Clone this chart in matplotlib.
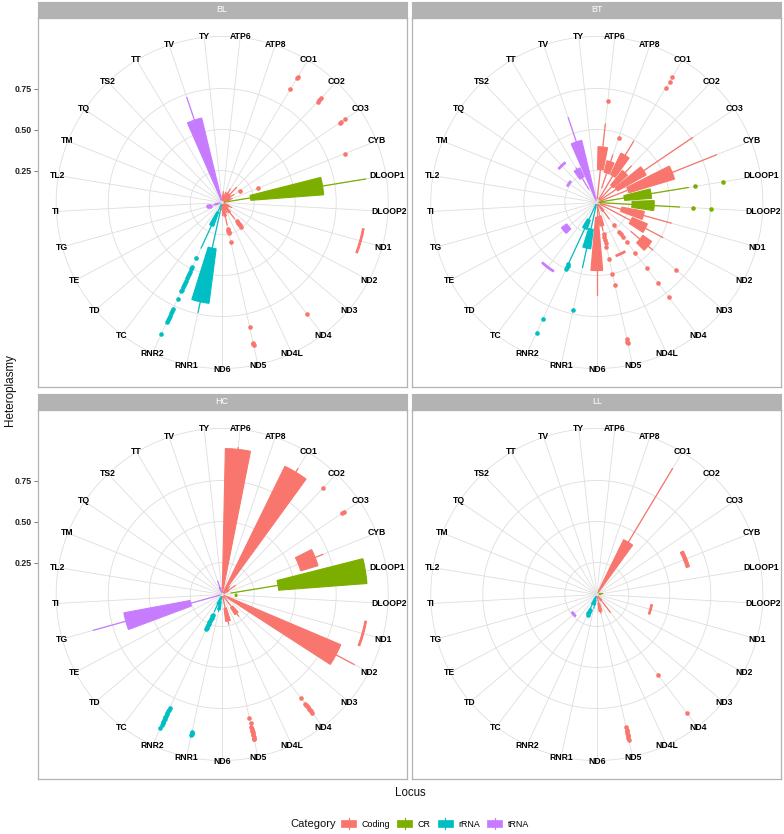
import numpy as np
import matplotlib
matplotlib.use("Agg")
import matplotlib.pyplot as plt
from matplotlib.patches import Rectangle
from matplotlib.lines import Line2D
from matplotlib.legend_handler import HandlerBase

plt.rcParams['font.family'] = ['Liberation Sans', 'DejaVu Sans']

# ---------------- data ----------------
loci = ["ATP6", "ATP8", "CO1", "CO2", "CO3", "CYB", "DLOOP1", "DLOOP2", "ND1", "ND2",
        "ND3", "ND4", "ND4L", "ND5", "ND6", "RNR1", "RNR2", "TC", "TD", "TE", "TG",
        "TI", "TL2", "TM", "TQ", "TS2", "TT", "TV", "TY"]
coding = ["ATP6", "ATP8", "CO1", "CO2", "CO3", "CYB", "ND1", "ND2", "ND3", "ND4",
          "ND4L", "ND5", "ND6"]
cr = ["DLOOP1", "DLOOP2"]
rrna = ["RNR1", "RNR2"]
trna = ["TC", "TD", "TE", "TG", "TI", "TL2", "TM", "TQ", "TS2", "TT", "TV", "TY"]
categories = ["Coding", "CR", "rRNA", "tRNA"]
cat_colors = ["#F8766D", "#7CAE00", "#00BFC4", "#C77CFF"]
facets = ["BL", "BT", "HC", "LL"]
r_ticks = [0.25, 0.50, 0.75]
r_tick_labels = ["0.25", "0.50", "0.75"]

# box statistics per locus: (lower whisker, Q1, Q3, upper whisker)
BL_box = {
    "ATP6": (0.07, 0.08, 0.10, 0.12), "ATP8": (0.07, 0.08, 0.10, 0.12),
    "CO1": (0.07, 0.09, 0.12, 0.15), "CO2": (0.07, 0.09, 0.12, 0.18),
    "CO3": (0.07, 0.09, 0.11, 0.14), "CYB": (0.07, 0.08, 0.10, 0.12),
    "DLOOP1": (0.07, 0.23, 0.675, 0.94),
    "ND1": (0.925, 0.925, 0.935, 0.935), "ND2": (0.07, 0.08, 0.10, 0.12),
    "ND3": (0.07, 0.08, 0.09, 0.10), "ND4": (0.07, 0.09, 0.13, 0.18),
    "ND4L": (0.07, 0.08, 0.10, 0.12), "ND5": (0.07, 0.09, 0.14, 0.195),
    "ND6": (0.07, 0.08, 0.10, 0.13),
    "RNR1": (0.07, 0.34, 0.675, 0.74), "RNR2": (0.07, 0.12, 0.21, 0.36),
    "TG": (0.07, 0.08, 0.10, 0.11), "TV": (0.07, 0.075, 0.585, 0.73),
}
BL_out = {
    "CO1": [0.86, 0.94, 0.95], "CO2": [0.90, 0.915, 0.93],
    "CO3": [0.185, 0.92, 0.93, 0.96], "CYB": [0.287, 0.86],
    "ND4": [0.20, 0.21, 0.22, 0.23, 0.24, 0.91],
    "ND5": [0.22, 0.23, 0.24, 0.245, 0.30, 0.83, 0.93, 0.94, 0.945],
    "RNR2": [0.43, 0.49, 0.505, 0.52, 0.535, 0.55, 0.565, 0.58, 0.595, 0.61, 0.625,
             0.64, 0.65, 0.70, 0.77, 0.785, 0.80, 0.815, 0.83, 0.845, 0.855, 0.94],
    "TG": [0.13, 0.145],
}

BT_box = {
    "ATP6": (0.08, 0.257, 0.395, 0.535), "ATP8": (0.15, 0.245, 0.317, 0.36),
    "CO1": (0.08, 0.245, 0.39, 0.49), "CO2": (0.08, 0.19, 0.305, 0.36),
    "CO3": (0.08, 0.20, 0.40, 0.76), "CYB": (0.08, 0.26, 0.55, 0.84),
    "DLOOP1": (0.07, 0.225, 0.39, 0.62), "DLOOP2": (0.07, 0.27, 0.405, 0.56),
    "ND1": (0.08, 0.21, 0.35, 0.525), "ND2": (0.08, 0.29, 0.39, 0.51),
    "ND3": (0.33, 0.40, 0.465, 0.50), "ND4": (0.07, 0.08, 0.12, 0.18),
    "ND4L": (0.395, 0.395, 0.405, 0.405), "ND5": (0.07, 0.14, 0.20, 0.23),
    "ND6": (0.07, 0.145, 0.47, 0.62),
    "RNR1": (0.07, 0.22, 0.34, 0.46), "RNR2": (0.07, 0.17, 0.23, 0.46),
    "TC": (0.545, 0.545, 0.555, 0.555), "TD": (0.28, 0.28, 0.32, 0.32),
    "TQ": (0.255, 0.255, 0.265, 0.265), "TS2": (0.36, 0.36, 0.37, 0.37),
    "TT": (0.15, 0.23, 0.29, 0.30), "TV": (0.07, 0.08, 0.445, 0.60),
}
BT_out = {
    "ATP6": [0.68], "ATP8": [0.47], "CO1": [0.87, 0.915, 0.945],
    "DLOOP1": [0.66, 0.835], "DLOOP2": [0.64, 0.75], "ND3": [0.69],
    "ND4": [0.225, 0.28, 0.30, 0.32, 0.355, 0.44, 0.56, 0.67, 0.78],
    "ND5": [0.25, 0.27, 0.29, 0.31, 0.33, 0.405, 0.50, 0.57, 0.91, 0.925, 0.935],
    "RNR1": [0.725], "RNR2": [0.47, 0.48, 0.49, 0.50, 0.84, 0.93],
}

HC_box = {
    "ATP6": (0.07, 0.09, 0.945, 0.955), "CO1": (0.07, 0.09, 0.925, 0.95),
    "CO2": (0.07, 0.08, 0.10, 0.12), "CO3": (0.07, 0.08, 0.10, 0.15),
    "CYB": (0.555, 0.555, 0.665, 0.715),
    "DLOOP1": (0.11, 0.40, 0.94, 0.94), "DLOOP2": (0.135, 0.135, 0.145, 0.145),
    "ND1": (0.94, 0.94, 0.95, 0.95), "ND2": (0.07, 0.09, 0.84, 0.965),
    "ND4": (0.07, 0.15, 0.20, 0.22), "ND5": (0.07, 0.14, 0.22, 0.24),
    "RNR1": (0.07, 0.10, 0.15, 0.16), "RNR2": (0.07, 0.08, 0.12, 0.17),
    "TG": (0.07, 0.255, 0.665, 0.87), "TV": (0.07, 0.08, 0.10, 0.14),
}
HC_out = {
    "CO2": [0.95], "CO3": [0.94, 0.955],
    "ND4": [0.845, 0.89, 0.90, 0.91, 0.92, 0.93, 0.94, 0.95, 0.96],
    "ND5": [0.825, 0.86, 0.885, 0.895, 0.905, 0.915, 0.925, 0.935, 0.945, 0.955, 0.96],
    "RNR1": [0.915, 0.92, 0.925, 0.93],
    "RNR2": [0.19, 0.20, 0.21, 0.22, 0.23, 0.24, 0.25, 0.26, 0.27, 0.28, 0.29,
             0.82, 0.83, 0.84, 0.85, 0.86, 0.87, 0.88, 0.89, 0.90, 0.91, 0.92, 0.935, 0.955],
}

LL_box = {
    "CO1": (0.07, 0.08, 0.427, 0.95), "CYB": (0.625, 0.625, 0.645, 0.645),
    "DLOOP1": (0.07, 0.07, 0.08, 0.09), "ND1": (0.39, 0.39, 0.40, 0.40),
    "ND4": (0.07, 0.08, 0.10, 0.19), "ND5": (0.07, 0.11, 0.16, 0.17),
    "RNR1": (0.07, 0.09, 0.12, 0.14), "RNR2": (0.07, 0.08, 0.12, 0.15),
    "TD": (0.235, 0.235, 0.245, 0.245),
}
LL_out = {
    "ND4": [0.67, 0.96],
    "ND5": [0.885, 0.90, 0.91, 0.92, 0.93, 0.94, 0.95, 0.965],
    "RNR2": [0.16, 0.17, 0.18, 0.19],
}

# ---------------- layout ----------------
W, H = 784, 834
fig = plt.figure(figsize=(W / 100, H / 100), dpi=100)
fig.patch.set_facecolor("white")

PANEL = 369.0           # panel size in px
STRIP = 16.5            # strip height in px
R0 = 0.055              # radial value at the centre
PX_PER_UNIT = 164.0     # px per heteroplasmy unit
R_OUT = R0 + 0.45 * PANEL / PX_PER_UNIT
panel_pos = {"BL": (37.7, 18.0), "BT": (412.3, 18.0),
             "HC": (37.7, 410.0), "LL": (412.3, 410.0)}
box_data = {"BL": (BL_box, BL_out), "BT": (BT_box, BT_out),
            "HC": (HC_box, HC_out), "LL": (LL_box, LL_out)}

grid_col = "#DEDEDE"
border_col = "#B3B3B3"
n = len(loci)
step = 2 * np.pi / n
theta_of = {loc: (i + 0.5) * step for i, loc in enumerate(loci)}
bw = 0.8 * step


def color_of(loc):
    if loc in coding:
        return cat_colors[0]
    if loc in cr:
        return cat_colors[1]
    if loc in rrna:
        return cat_colors[2]
    return cat_colors[3]


for name in facets:
    x0, y0 = panel_pos[name]
    left_col = x0 < 100
    # frame (panel border + radial axis)
    fr = fig.add_axes([x0 / W, 1 - (y0 + PANEL) / H, PANEL / W, PANEL / H])
    half = PANEL / 2 / PX_PER_UNIT
    fr.set_xlim(0, 1)
    fr.set_ylim(R0 - half, R0 + half)
    fr.set_xticks([])
    if left_col:
        fr.set_yticks(r_ticks)
        fr.set_yticklabels(r_tick_labels, fontsize=6.3, fontweight="bold", color="#222222")
        fr.tick_params(axis="y", length=3, width=0.6, color="#666666", pad=1.2)
    else:
        fr.set_yticks([])
    for s in fr.spines.values():
        s.set_color(border_col)
        s.set_linewidth(0.9)
    fr.set_zorder(0)

    # strip
    st = fig.add_axes([x0 / W, 1 - y0 / H, PANEL / W, STRIP / H])
    st.set_facecolor(border_col)
    st.set_xticks([])
    st.set_yticks([])
    for s in st.spines.values():
        s.set_color(border_col)
    st.text(0.5, 0.5, name, color="white", ha="center", va="center", fontsize=6.5,
            transform=st.transAxes)

    # polar panel
    cx, cy = x0 + PANEL / 2, y0 + PANEL / 2
    rad = 0.45 * PANEL
    ax = fig.add_axes([(cx - rad) / W, 1 - (cy + rad) / H, 2 * rad / W, 2 * rad / H],
                      projection="polar")
    ax.set_theta_zero_location("N")
    ax.set_theta_direction(-1)
    ax.set_ylim(R0, R_OUT)
    ax.axis("off")
    ax.set_zorder(1)

    tt = np.linspace(0, 2 * np.pi, 300)
    for r in r_ticks + [R_OUT]:
        ax.plot(tt, np.full_like(tt, r), color=grid_col, lw=0.6, zorder=0, clip_on=False)
    for loc in loci:
        th = theta_of[loc]
        ax.plot([th, th], [R0, R_OUT], color=grid_col, lw=0.6, zorder=0, clip_on=False)
        ax.text(th, R_OUT + 0.004, loc, ha="center", va="center", fontsize=6.2,
                fontweight="bold", color="black", zorder=1, clip_on=False)

    boxes, outs = box_data[name]
    for loc, (lw_, q1, q3, uw) in boxes.items():
        th = theta_of[loc]
        c = color_of(loc)
        if uw > q3:
            ax.plot([th, th], [q3, uw], color=c, lw=0.9, zorder=2, clip_on=False)
        if lw_ < q1:
            ax.plot([th, th], [lw_, q1], color=c, lw=0.9, zorder=2, clip_on=False)
        ax.bar(th, q3 - q1, width=bw, bottom=q1, color=c, edgecolor=c,
               linewidth=0.8, zorder=3, clip_on=False)
    for loc, vals in outs.items():
        th = theta_of[loc]
        ax.scatter(np.full(len(vals), th), vals, s=11, color=color_of(loc),
                   linewidths=0, zorder=4, clip_on=False)


# ---------------- titles & legend ----------------
fig.text(10 / W, 1 - 390 / H, "Heteroplasmy", rotation=90, ha="center", va="center",
         fontsize=8.4, color="#111111")
fig.text(410 / W, 1 - 793 / H, "Locus", ha="center", va="center", fontsize=8.3,
         color="#111111")
fig.text(336 / W, 1 - 824 / H, "Category", ha="right", va="center", fontsize=8,
         color="#111111")


class BoxKey(HandlerBase):
    def create_artists(self, legend, orig_handle, xdescent, ydescent, width, height,
                       fontsize, trans):
        c = orig_handle.get_facecolor()
        x = -xdescent
        y = -ydescent
        rect = Rectangle((x, y + height * 0.1), width, height * 0.8, facecolor=c,
                         edgecolor=c, lw=0.5, transform=trans)
        line = Line2D([x + width / 2, x + width / 2], [y - height * 0.1, y + height * 1.1],
                      color=c, lw=0.8, transform=trans)
        return [line, rect]


handles = [Rectangle((0, 0), 1, 1, facecolor=c) for c in cat_colors]
fig.legend(handles, categories, loc="center", bbox_to_anchor=(435 / W, 1 - 824 / H),
           ncol=4, frameon=False, fontsize=6.4, handlelength=1.7, handleheight=1.2,
           handletextpad=0.6, columnspacing=0.8, borderpad=0.2,
           handler_map={Rectangle: BoxKey()})

fig.savefig("out.png", dpi=100)
